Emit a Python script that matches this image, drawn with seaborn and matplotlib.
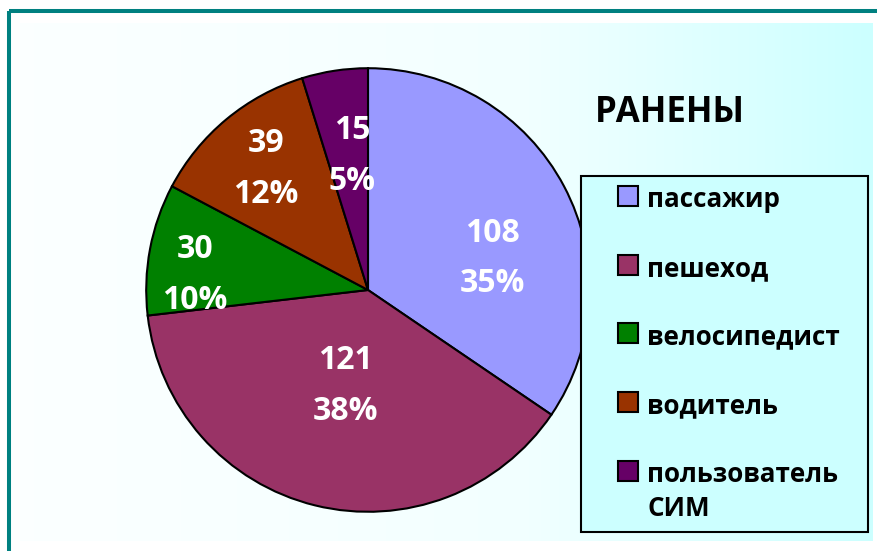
import numpy as np
import matplotlib
matplotlib.use("Agg")
import matplotlib.pyplot as plt
from matplotlib.patches import Rectangle
from matplotlib.colors import LinearSegmentedColormap
from matplotlib.legend_handler import HandlerPatch
import seaborn as sns

# ---- data ----
categories = ["пассажир", "пешеход", "велосипедист", "водитель", "пользователь\nСИМ"]
values = [108, 121, 30, 39, 15]
percents = [35, 38, 10, 12, 5]
title = "РАНЕНЫ"

# ---- style ----
sns.set_theme(style="white")
plt.rcParams['font.family'] = ['Open Sans', 'DejaVu Sans']
plt.rcParams['font.weight'] = 'bold'

palette = sns.color_palette(["#9999FF", "#993366", "#008000", "#993300", "#660066"])

W, H = 877, 551
fig = plt.figure(figsize=(W / 100, H / 100), dpi=100)
fig.patch.set_facecolor("white")

# background: gradient panel + teal frame (pixel coordinates)
bg = fig.add_axes([0, 0, 1, 1], zorder=-5)
cmap = LinearSegmentedColormap.from_list("bg", ["#FBFFFF", "#F2FFFF", "#CCFFFF"])
grad = np.linspace(0, 1, 256)[None, :] ** 1.3
bg.imshow(grad, cmap=cmap, extent=(20, 873, 541, 23), aspect="auto",
          interpolation="bicubic")
bg.add_patch(Rectangle((9, 10.5), 900, 600, fill=False, edgecolor="#008080",
                       linewidth=2.9))
bg.set_xlim(0, W)
bg.set_ylim(H, 0)
bg.axis("off")

# pie axes: centre (368, 290) px, radius 224 px
cx, cy, r = 368, 290, 224
ax = fig.add_axes([(cx - r) / W, (H - cy - r) / H, 2 * r / W, 2 * r / H])
ax.patch.set_alpha(0)
wedges, _ = ax.pie(values, colors=palette, startangle=90, counterclock=False,
                   radius=1.0,
                   wedgeprops=dict(edgecolor="black", linewidth=1.5))
ax.set_xlim(-1.01, 1.01)
ax.set_ylim(-1.01, 1.01)
ax.axis("off")

# label centres (data units of the pie axes)
label_pos = [(0.5625, 0.143), (-0.103, -0.433), (-0.781, 0.067),
             (-0.46, 0.545), (-0.071, 0.603)]
for (x, y), v, p in zip(label_pos, values, percents):
    ax.text(x, y + 0.114, f"{v}", ha="center", va="center", color="white",
            fontsize=23, fontweight="bold")
    ax.text(x, y - 0.114, f"{p}%", ha="center", va="center", color="white",
            fontsize=23, fontweight="bold")

# title
fig.text(670 / W, 1 - 113 / H, title, ha="center", va="center",
         fontsize=25, fontweight="bold", color="black")


# legend with square markers set in from the frame edge
def square_patch(legend, orig_handle, xdescent, ydescent, width, height, fontsize):
    s = 14.4
    return Rectangle((-xdescent + width - s - 3.5, -ydescent + (height - s) / 2), s, s)


leg = fig.legend(wedges, categories, loc="upper left",
                 bbox_to_anchor=(581 / W, 1 - 176 / H - 0.01, (868 - 581) / W, 0.01),
                 mode="expand", frameon=True, fancybox=False,
                 fontsize=18.7, labelcolor="black",
                 handlelength=2.0, handleheight=0.8,
                 handletextpad=0.15, labelspacing=1.6, borderpad=0.4,
                 borderaxespad=0,
                 handler_map={type(wedges[0]): HandlerPatch(patch_func=square_patch)})
frame = leg.get_frame()
frame.set_facecolor("#CCFFFF")
frame.set_edgecolor("black")
frame.set_linewidth(1.5)
frame.set_alpha(1)
for h in leg.legend_handles:
    h.set_edgecolor("black")
    h.set_linewidth(1.5)
for t in leg.get_texts():
    t.set_linespacing(1.35)
# align markers with the first line of each label
for col in leg._legend_handle_box.get_children():
    for item in col.get_children():
        item.align = "top"

fig.savefig("out.png", dpi=100)
